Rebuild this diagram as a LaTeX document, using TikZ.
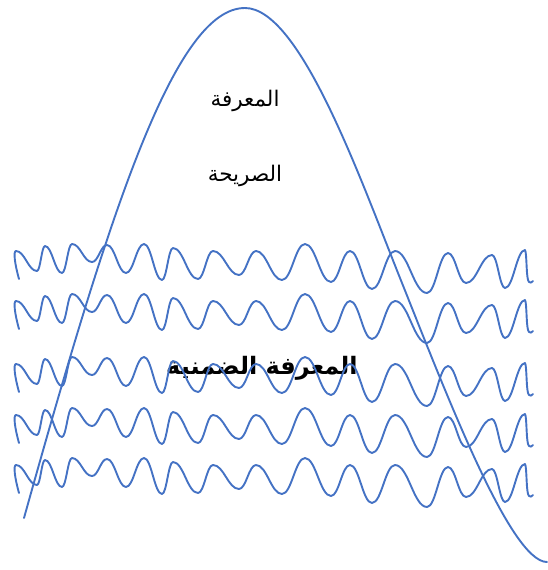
\documentclass[tikz,border=0pt]{standalone}
\usepackage{fontspec}
\usetikzlibrary{calc}
\newfontfamily\arabicfont[Script=Arabic]{DejaVu Sans}
\TeXXeTstate=1
\definecolor{wblue}{RGB}{68,114,196}
\tikzset{
  curve/.style={draw=wblue, line width=1.9pt, line cap=round, line join=round},
  lbl/.style={font=\arabicfont\fontsize{21.5}{24}\selectfont, inner sep=0pt},
  lblb/.style={font=\arabicfont\bfseries\fontsize{24}{28}\selectfont, inner sep=0pt}
}
\begin{document}
\begin{tikzpicture}[x=1pt,y=-1pt]
\useasboundingbox (0,0) rectangle (547,570);
% labels
\node[lbl] (t1) at (245,101) {\beginR المعرفة\endR};
\node[lbl] (t2) at (245,176) {\beginR الصريحة\endR};
\node[lblb] (t3) at (262,368) {\beginR المعرفة الضمنية\endR};
% waves
\foreach \dy in {0,50,113,164,214} {
  \begin{scope}[yshift=-\dy pt]
  \draw[curve] (19,279) .. controls (15,265) and (13,251) .. (16,251)
    \foreach \x/\y [remember=\x as \px (initially 16), remember=\y as \py (initially 251)] in {
      37/271, 45/246, 62/273, 72/244, 92/262, 107/245, 126/273, 144/244,
      162/280, 173/248, 198/279, 213/251, 239/275, 256/251, 282/280,
      305/244, 331/282, 350/251, 372/289, 395/251, 427/293, 448/253,
      466/283, 492/255, 505/288, 525/250} {
      .. controls ($(\px,\py)!0.42!(\x,\py)$) and ($(\x,\y)!0.42!(\px,\y)$) .. (\x,\y)
    }
    .. controls (527,253) and (526,280) .. (529,282)
    .. controls (531,283) .. (533,281);
  \end{scope}
}
% big curve
\draw[curve] (24,518) .. controls (110,210) and (175,8) .. (245,8)
  .. controls (300,8) and (360,178) .. (400,278)
  .. controls (444,388) and (510,562) .. (547,562);
\end{tikzpicture}
\end{document}
